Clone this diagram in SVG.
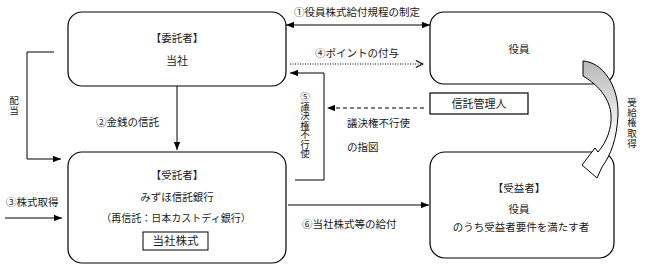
<svg xmlns="http://www.w3.org/2000/svg" width="645" height="270" viewBox="0 0 645 270">
<style>
text{font-family:"Noto Sans CJK JP","Noto Sans",sans-serif;font-size:10.5px;fill:#1a1a1a}
.c{text-anchor:middle}
.v{writing-mode:vertical-rl;text-orientation:upright;text-anchor:middle}
.box{fill:#fff;stroke:#000;stroke-width:1.2}
.ln{fill:none;stroke:#000;stroke-width:1}
.dot{fill:none;stroke:#000;stroke-width:1;stroke-dasharray:1,1.5}
.dash{fill:none;stroke:#000;stroke-width:1;stroke-dasharray:4,3}
</style>
<defs>
<marker id="ah" viewBox="0 0 10 8" refX="10" refY="4" markerWidth="8" markerHeight="6.4" markerUnits="userSpaceOnUse" orient="auto-start-reverse">
<path d="M0,0 L10,4 L0,8 Z" fill="#000"/>
</marker>
<marker id="oh" viewBox="0 0 10 10" refX="9" refY="5" markerWidth="9" markerHeight="9" markerUnits="userSpaceOnUse" orient="auto">
<path d="M1,1 L9,5 L1,9" fill="none" stroke="#000" stroke-width="1.2"/>
</marker>
<linearGradient id="g" x1="0" y1="62" x2="0" y2="150" gradientUnits="userSpaceOnUse">
<stop offset="0" stop-color="#b8b8b8"/>
<stop offset="0.55" stop-color="#e4e4e4"/>
<stop offset="1" stop-color="#ffffff"/>
</linearGradient>
</defs>

<g id="connectors">
<line class="ln" x1="286" y1="25" x2="430" y2="25" marker-start="url(#ah)" marker-end="url(#ah)"/>
<text class="c" x="357" y="16">①役員株式給付規程の制定</text>
<line class="dot" x1="290" y1="64" x2="423" y2="64" marker-end="url(#oh)"/>
<text class="c" x="357" y="57">④ポイントの付与</text>
<path class="ln" d="M54,52 H27 V159 H61" marker-end="url(#ah)"/>
<text class="v" x="14" y="106" style="font-size:9.5px;letter-spacing:1px">配当</text>
<line class="ln" x1="177" y1="86" x2="177" y2="150" marker-end="url(#ah)"/>
<text class="c" x="127.5" y="126">②金銭の信託</text>
<line class="ln" x1="5" y1="218" x2="62" y2="218" marker-end="url(#ah)"/>
<text x="6" y="206">③株式取得</text>
<path class="ln" d="M295,180 H324 V73 H290" marker-end="url(#ah)"/>
<text class="v" x="305" y="125" style="font-size:9.5px">⑤議決権不行使</text>
<line class="dash" x1="424" y1="108" x2="327" y2="108" marker-end="url(#ah)"/>
<text x="347" y="127">議決権不行使</text>
<text x="347" y="151">の指図</text>
<line class="ln" x1="288" y1="205" x2="429" y2="205" marker-end="url(#ah)"/>
<text x="302" y="228">⑥当社株式等の給付</text>
<text class="v" x="632" y="123" style="font-size:9.5px;letter-spacing:0.8px">受給権取得</text>
</g>

<g id="itakusha">
<rect class="box" x="68" y="12" width="218" height="74" rx="14"/>
<text class="c" x="177" y="42">【委託者】</text>
<text class="c" x="177" y="65" style="font-size:11px">当社</text>
</g>

<g id="yakuin">
<rect class="box" x="430" y="12" width="184" height="72" rx="14"/>
<text class="c" x="519" y="53">役員</text>
</g>

<g id="shintaku-kanrinin">
<rect class="box" x="430" y="93" width="98" height="21"/>
<text class="c" x="479" y="108" style="font-size:11px">信託管理人</text>
</g>

<g id="jutakusha">
<rect class="box" x="68" y="152" width="218" height="111" rx="14"/>
<text class="c" x="177" y="179">【受託者】</text>
<text class="c" x="177" y="201">みずほ信託銀行</text>
<text class="c" x="176" y="222" style="font-size:10px">（再信託：日本カストディ銀行）</text>
<rect x="143" y="232" width="65" height="18" fill="#fff" stroke="#000" stroke-width="1"/>
<text class="c" x="175.5" y="245" style="font-size:11.5px">当社株式</text>
</g>

<g id="juekisha">
<rect class="box" x="430" y="152" width="184" height="106" rx="15"/>
<text class="c" x="519" y="192">【受益者】</text>
<text class="c" x="519" y="213">役員</text>
<text class="c" x="521" y="231">のうち受益者要件を満たす者</text>
</g>

<g id="block-arrow">
<path d="M583,61 C602,62 619,85 618,115 C617,138 611,155 602,167 L597,178 L582,165 L595,148 L598,152 C607,142 612,127 611,115 C610,100 600,86 583,76 Z" fill="url(#g)" stroke="#000" stroke-width="1"/>
</g>
</svg>
